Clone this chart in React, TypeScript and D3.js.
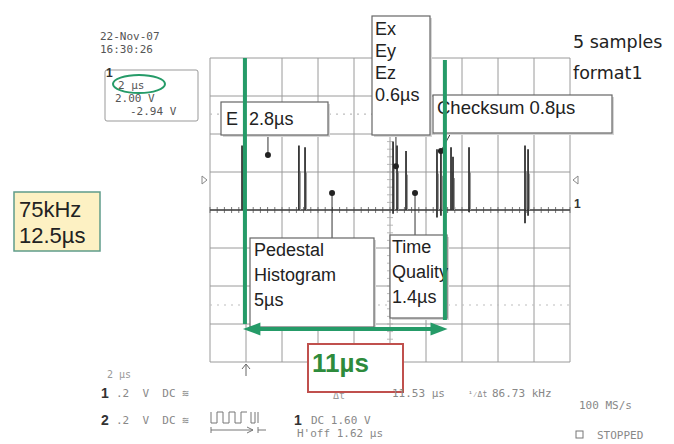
import React from 'react';
import * as d3 from 'd3';

// scope trace: pulse positions (µs), peak and trough (V)
const pulseTimes = [1.78, 4.94, 5.28, 10.17, 10.39, 10.89, 12.61, 12.83, 13.39, 13.5, 14.39, 17.5, 17.67];
const pulsePeaks = [0.34, 0.34, 0.33, 0.36, 0.34, 0.31, 0.32, 0.3, 0.33, 0.28, 0.33, 0.34, 0.32];
const pulseTroughs = [0, 0, 0, -0.02, 0, 0, -0.04, -0.03, 0, 0, -0.01, -0.07, -0.03];

// annotation markers on the trace (µs, V)
const markerTimes = [3.22, 6.78, 10.33, 11.39, 12.83];
const markerVolts = [0.29, 0.09, 0.23, 0.09, 0.31];

const timeDivs = d3.range(0, 21, 2);
const voltDivs = d3.range(-0.8, 0.801, 0.2);
const cursorVolts = [0.505, -0.5];

const GREEN = '#259b68';
const MONO = '"DejaVu Sans Mono", "Liberation Mono", monospace';
const SANS = '"Liberation Sans", Arial, sans-serif';

const Box = ({ x, y, w, h, lines, dy, size = 18, tx = 4, base }: any) => (
  <g>
    <rect x={x + 2} y={y + 2} width={w} height={h} fill="#d6d6d6" />
    <rect x={x} y={y} width={w} height={h} fill="#fff" stroke="#666" strokeWidth={1.2} />
    {lines.map((l: string, i: number) => (
      <text key={i} x={x + tx} y={base + i * dy} fontFamily={SANS} fontSize={size} fill="#222">{l}</text>
    ))}
  </g>
);

export default function App() {
  const x = d3.scaleLinear().domain([0, 20]).range([210, 570]);
  const y = d3.scaleLinear().domain([-0.8, 0.8]).range([362, 58]);
  const minor = d3.range(0, 20.01, 0.4);
  const minorV = d3.range(-0.8, 0.801, 0.04);

  return (
    <svg width={674} height={444} style={{ position: 'absolute', left: 0, top: 0, background: '#fff' }}>
      {/* graticule */}
      {timeDivs.map(t => (
        <line key={'v' + t} x1={x(t)} x2={x(t)} y1={y(0.8)} y2={y(-0.8)} stroke="#9a9a9a" strokeWidth={1} />
      ))}
      {voltDivs.map(v => (
        <line key={'h' + v} x1={x(0)} x2={x(20)} y1={y(v)} y2={y(v)} stroke="#9a9a9a" strokeWidth={1} />
      ))}
      {cursorVolts.map(v => (
        <line key={'c' + v} x1={x(0)} x2={x(20)} y1={y(v)} y2={y(v)} stroke="#bdbdbd" strokeWidth={1.2} strokeDasharray="2,5" />
      ))}
      {minor.map(t => (
        <line key={'m' + t} x1={x(t)} x2={x(t)} y1={y(0) - 3} y2={y(0) + 3} stroke="#777" strokeWidth={1} />
      ))}
      {minorV.map(v => (
        <line key={'mv' + v} x1={x(10) - 3} x2={x(10) + 3} y1={y(v)} y2={y(v)} stroke="#aaa" strokeWidth={0.8} />
      ))}
      {/* trace baseline */}
      <line x1={x(0)} x2={x(20)} y1={y(0)} y2={y(0)} stroke="#444" strokeWidth={1.4} />
      {pulseTimes.map((t, i) => (
        <g key={'p' + i}>
          <line x1={x(t)} x2={x(t)} y1={y(pulseTroughs[i])} y2={y(pulsePeaks[i])} stroke="#333" strokeWidth={1.8} />
          <line x1={x(t) + 1.5} x2={x(t) + 1.5} y1={y(0)} y2={y(pulsePeaks[i] * 0.6)} stroke="#999" strokeWidth={1} />
        </g>
      ))}
      {/* side markers */}
      <path d="M202,176 L207,180 L202,184 Z" fill="none" stroke="#888" />
      <path d="M578,176 L573,180 L578,184 Z" fill="none" stroke="#888" />
      <text x={574} y={208} fontFamily={SANS} fontWeight="bold" fontSize={12} fill="#333">1</text>

      {/* leaders and dots */}
      <line x1={x(markerTimes[0])} x2={x(markerTimes[0])} y1={135} y2={y(markerVolts[0])} stroke="#333" />
      <line x1={x(markerTimes[1])} x2={x(markerTimes[1])} y1={y(markerVolts[1])} y2={238} stroke="#333" />
      <line x1={x(markerTimes[2])} x2={x(markerTimes[2])} y1={135} y2={y(markerVolts[2])} stroke="#333" />
      <line x1={x(markerTimes[3])} x2={x(markerTimes[3])} y1={y(markerVolts[3])} y2={235} stroke="#333" />
      <line x1={x(markerTimes[4])} x2={458} y1={y(markerVolts[4])} y2={120} stroke="#333" />
      {markerTimes.map((t, i) => (
        <circle key={'d' + i} cx={x(t)} cy={y(markerVolts[i])} r={3} fill="#222" />
      ))}

      {/* annotation boxes */}
      <Box x={221} y={102} w={107} h={33} lines={['E', '']} dy={0} base={125} tx={5} />
      <text x={249} y={125} fontFamily={SANS} fontSize={18} fill="#222">2.8µs</text>
      <Box x={372} y={16} w={58} h={119} lines={['Ex', 'Ey', 'Ez', '0.6µs']} dy={22} base={35} tx={3} />
      <Box x={433} y={95} w={179} h={38} lines={['Checksum 0.8µs']} dy={0} base={114} tx={4} size={18.5} />
      <Box x={250} y={238} w={124} h={89} lines={['Pedestal', 'Histogram', '5µs']} dy={25} base={256} tx={4} />
      <Box x={390} y={235} w={57} h={83} lines={['Time', 'Quality', '1.4µs']} dy={25} base={253} tx={2} />

      {/* green cursors and span arrow */}
      <line x1={x(1.94)} x2={x(1.94)} y1={58} y2={324} stroke={GREEN} strokeWidth={4} />
      <line x1={x(13.05)} x2={x(13.05)} y1={60} y2={320} stroke={GREEN} strokeWidth={4} />
      <line x1={x(2.4)} x2={x(12.7)} y1={329} y2={329} stroke={GREEN} strokeWidth={4} />
      <path d={`M${x(1.83)},329 L${x(2.8)},322.5 L${x(2.8)},335.5 Z`} fill={GREEN} />
      <path d={`M${x(13.2)},329 L${x(12.25)},322.5 L${x(12.25)},335.5 Z`} fill={GREEN} />

      {/* trigger arrow */}
      <line x1={246} x2={246} y1={365} y2={376} stroke="#666" />
      <path d="M242,369 L246,364 L250,369" fill="none" stroke="#666" />

      {/* top-left scope readout */}
      <text x={100} y={40} fontFamily={MONO} fontSize={11} fill="#555">22-Nov-07</text>
      <text x={100} y={53} fontFamily={MONO} fontSize={11} fill="#555">16:30:26</text>
      <rect x={105} y={70} width={93} height={51} fill="none" stroke="#999" rx={2} />
      <text x={106} y={77} fontFamily={SANS} fontWeight="bold" fontSize={12} fill="#333">1</text>
      <text x={118} y={89} fontFamily={MONO} fontSize={11} fill="#555">2 µs</text>
      <text x={115} y={102} fontFamily={MONO} fontSize={11} fill="#555">2.00 V</text>
      <text x={130} y={115} fontFamily={MONO} fontSize={11} fill="#555">-2.94 V</text>
      <ellipse cx={139} cy={84} rx={26} ry={9} fill="none" stroke={GREEN} strokeWidth={2} />

      {/* 75 kHz box */}
      <rect x={14} y={192} width={86} height={59} fill="#fdf1c3" stroke="#5f9c8a" strokeWidth={1.5} />
      <text x={19} y={217} fontFamily={SANS} fontSize={22} fill="#222">75kHz</text>
      <text x={19} y={243} fontFamily={SANS} fontSize={22} fill="#222">12.5µs</text>

      {/* right notes */}
      <text x={573} y={48} fontFamily='"DejaVu Sans", sans-serif' fontSize={17.5} fill="#222">5 samples</text>
      <text x={573} y={79} fontFamily='"DejaVu Sans", sans-serif' fontSize={17.5} fill="#222">format1</text>

      {/* bottom readout */}
      <text x={107} y={378} fontFamily={MONO} fontSize={10} fill="#999">2 µs</text>
      <text x={101} y={398} fontFamily={SANS} fontWeight="bold" fontSize={14} fill="#333">1</text>
      <text x={116} y={397} fontFamily={MONO} fontSize={11} fill="#888" xmlSpace="preserve">.2  V  DC ≋</text>
      <text x={101} y={425} fontFamily={SANS} fontWeight="bold" fontSize={14} fill="#333">2</text>
      <text x={116} y={424} fontFamily={MONO} fontSize={11} fill="#888" xmlSpace="preserve">.2  V  DC ≋</text>
      <path d="M211,412 V423 H217 V412 H223 V423 H229 V412 H235 V423 H241 V412 H247 M251,412 V423 H255 V412 M258,412 V423" fill="none" stroke="#777" />
      <path d="M211,427 V433 M211,430 H253 M247,427 L253,430 L247,433 M258,427 V433 M258,430 H266" fill="none" stroke="#777" />
      <text x={294} y={425} fontFamily={SANS} fontWeight="bold" fontSize={14} fill="#333">1</text>
      <text x={311} y={424} fontFamily={MONO} fontSize={11} fill="#888">DC 1.60 V</text>
      <text x={297} y={437} fontFamily={MONO} fontSize={11} fill="#888">H'off 1.62 µs</text>
      <text x={333} y={399} fontFamily={MONO} fontSize={10} fill="#999">Δt</text>

      {/* 11 µs box */}
      <rect x={308} y={344} width={95} height={48} fill="#fff" stroke="#c0504d" strokeWidth={2} />
      <text x={312} y={372} fontFamily={SANS} fontWeight="bold" fontSize={26} fill="#2e8b3c">11µs</text>

      <text x={392} y={397} fontFamily={MONO} fontSize={11} fill="#888">11.53 µs</text>
      <text x={468} y={397} fontFamily={MONO} fontSize={8} fill="#888">¹⁄Δt</text>
      <text x={492} y={397} fontFamily={MONO} fontSize={11} fill="#888">86.73 kHz</text>
      <text x={579} y={409} fontFamily={MONO} fontSize={11} fill="#888">100 MS/s</text>
      <rect x={576} y={431} width={7} height={7} fill="none" stroke="#777" />
      <text x={597} y={439} fontFamily={MONO} fontSize={11} fill="#888">STOPPED</text>
    </svg>
  );
}
